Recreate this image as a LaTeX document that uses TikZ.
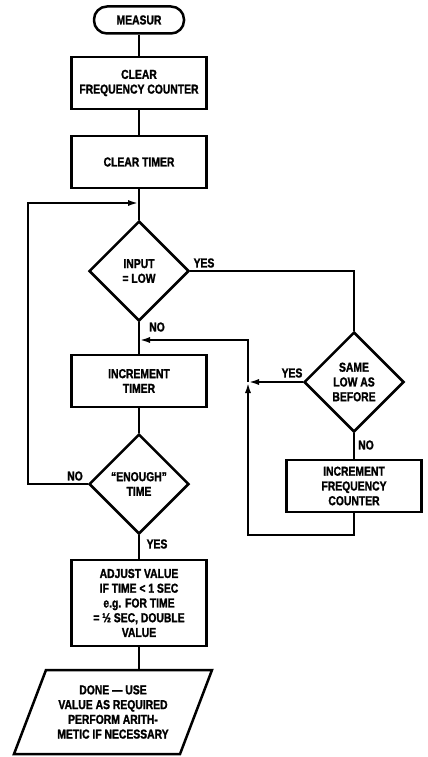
\documentclass[tikz,border=0pt]{standalone}
\usepackage{fontspec}
\setmainfont{Liberation Sans}[FakeStretch=0.8, BoldFeatures={FakeBold=1.5}]
\usepackage{tikz}
\usetikzlibrary{shapes.geometric, arrows.meta, positioning}

\begin{document}
\begin{tikzpicture}[
    x=1bp, y=-1bp,
    every node/.style={font=\fontsize{13}{14.8}\selectfont\bfseries},
    box/.style={
        rectangle, draw=black, line width=2.5bp,
        minimum width=135bp, minimum height=52bp,
        align=center, inner sep=2bp
    },
    term/.style={
        rectangle, rounded corners=13bp, draw=black, line width=2.5bp,
        minimum width=90bp, minimum height=27bp, align=center
    },
    decision/.style={
        diamond, draw=black, line width=2.5bp,
        minimum width=100bp, minimum height=100bp,
        inner sep=0pt, align=center
    },
    io/.style={
        trapezium, trapezium left angle=60, trapezium right angle=120,
        trapezium stretches body, draw=black, line width=2.5bp,
        minimum width=198bp, minimum height=84bp,
        align=center, inner sep=1bp
    },
    line/.style={line width=2.5bp},
    arrow/.style={-{Latex[length=11bp,width=6bp]}, line width=2.5bp},
    tag/.style={font=\fontsize{13}{14}\selectfont\bfseries},
]
\useasboundingbox (0,0) rectangle (427,757);

% Main column
\node[term]     (measur)   at (139,20)  {MEASUR};
\node[box]      (clrfreq)  at (139,83)  {CLEAR\\FREQUENCY COUNTER};
\node[box]      (clrtimer) at (139,162) {CLEAR TIMER};
\node[decision] (input)    at (139,271) {INPUT\\= LOW};
\node[box]      (inctimer) at (139,381) {INCREMENT\\TIMER};
\node[decision] (enough)   at (139,484) {``ENOUGH''\\TIME};
\node[box, minimum height=86bp] (adjust) at (139,603)
    {ADJUST VALUE\\IF TIME < 1 SEC\\e.g. FOR TIME\\= ½ SEC, DOUBLE\\VALUE};
\node[io]       (done)     at (113,712)
    {DONE --- USE\\VALUE AS REQUIRED\\PERFORM ARITH-\\METIC IF NECESSARY};

% Right branch
\node[decision] (same)    at (354,382) {SAME\\LOW AS\\BEFORE};
\node[box]      (incfreq) at (354,486) {INCREMENT\\FREQUENCY\\COUNTER};

% Loop points
\coordinate (loopin)  at (139,203);
\coordinate (backin)  at (139,340);
\coordinate (join)    at (248,382);
\coordinate (joinup)  at (248,340);
\coordinate (joindn)  at (248,535);

% Straight flow
\draw[line] (measur) -- (clrfreq);
\draw[line] (clrfreq) -- (clrtimer);
\draw[line] (clrtimer) -- (input);
\draw[line] (input) -- (inctimer);
\draw[line] (inctimer) -- (enough);
\draw[line] (enough) -- (adjust);
\draw[line] (adjust) -- (adjust.south |- done.north);
\draw[line] (same) -- (incfreq);

% Loops
\draw[arrow] (enough.west) -- (28,484) -- (28,203) -- (loopin);
\draw[line] (input.east) -| (same.north);
\draw[arrow] (same.west) -- (join);
\draw[arrow] (incfreq.south) |- (joindn) -- (join);
\draw[arrow] (join) -- (joinup) -- (backin);

% Labels
\node[tag] at (204,263) {YES};
\node[tag] at (157,327) {NO};
\node[tag] at (292,373) {YES};
\node[tag] at (366,445) {NO};
\node[tag] at (75,476)  {NO};
\node[tag] at (157,544) {YES};

\end{tikzpicture}
\end{document}
